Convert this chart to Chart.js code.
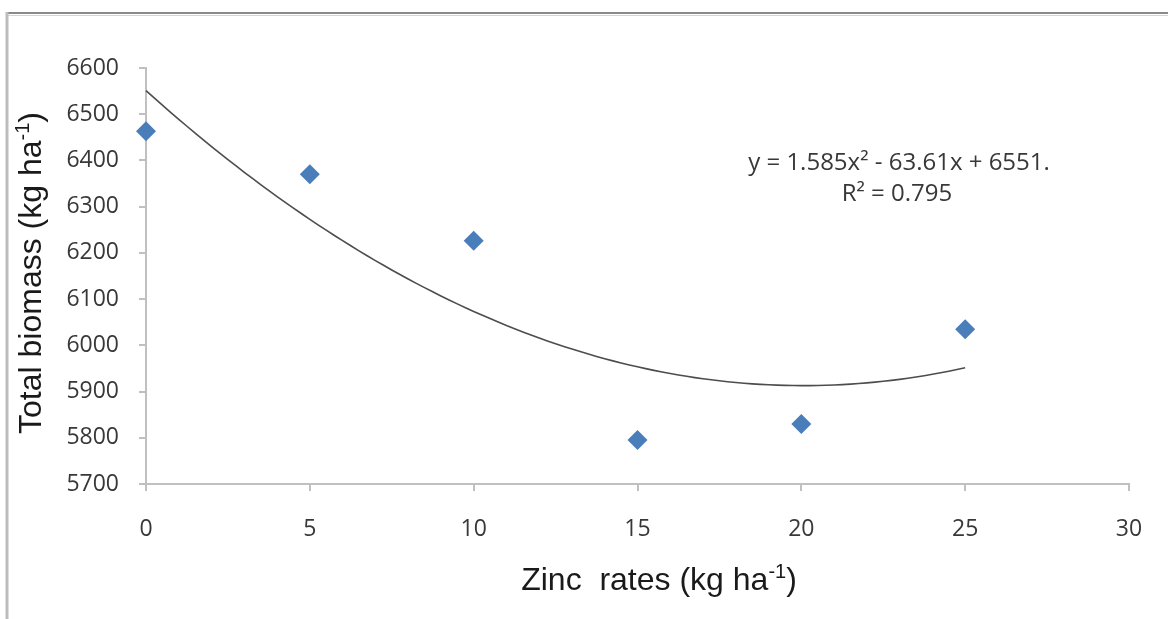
<!DOCTYPE html>
<html>
<head>
<meta charset="utf-8">
<script src="https://cdn.jsdelivr.net/npm/chart.js@4/dist/chart.umd.min.js"></script>
<style>
  html, body { margin: 0; padding: 0; background: #ffffff; }
  #wrap { position: relative; width: 1168px; height: 619px; }
</style>
</head>
<body>
<div id="wrap"><canvas id="chart" width="1168" height="619"></canvas></div>
<script>
// Zinc application rates (kg ha-1) and measured total biomass (kg ha-1)
const zincRates = [0, 5, 10, 15, 20, 25];
const totalBiomass = [6463, 6370, 6226, 5795, 5830, 6035];

// Quadratic trend coefficients: y = a*x^2 + b*x + c
const trendCoefficients = [1.585, -63.61, 6551];
const trendR2 = 0.795;

// Axis tick settings
const xTicks = [0, 5, 10, 15, 20, 25, 30];
const yTicks = [5700, 5800, 5900, 6000, 6100, 6200, 6300, 6400, 6500, 6600];

const [qa, qb, qc] = trendCoefficients;
const trendPoints = [];
for (let i = 0; i <= 100; i++) {
  const x = zincRates[0] + (zincRates[zincRates.length - 1] - zincRates[0]) * i / 100;
  trendPoints.push({ x: x, y: qa * x * x + qb * x + qc });
}

const scatterPoints = zincRates.map((x, i) => ({ x: x, y: totalBiomass[i] }));

const equationLine1 = 'y = ' + qa + 'x\u00B2 - ' + Math.abs(qb) + 'x + ' + qc + '.';
const equationLine2 = 'R\u00B2 = ' + trendR2;

const AXIS_COLOR = '#c0c0c0';
const TEXT_COLOR = '#383838';
const TICK_FONT = { family: '"Open Sans", Lato, sans-serif', size: 23 };

// Draws text with a raised, smaller superscript segment
function drawSupText(ctx, parts, x, y, size) {
  let total = 0;
  const widths = parts.map(p => {
    ctx.font = (p.sup ? Math.round(size * 0.62) : size) + 'px "Liberation Sans", Arial, sans-serif';
    const w = ctx.measureText(p.t).width;
    total += w;
    return w;
  });
  let cx = x - total / 2;
  parts.forEach((p, i) => {
    ctx.font = (p.sup ? Math.round(size * 0.62) : size) + 'px "Liberation Sans", Arial, sans-serif';
    ctx.fillText(p.t, cx, p.sup ? y - size * 0.36 : y);
    cx += widths[i];
  });
}

const decorations = {
  id: 'decorations',
  beforeDraw(chart) {
    const ctx = chart.ctx;
    ctx.save();
    ctx.fillStyle = '#ffffff';
    ctx.fillRect(0, 0, chart.width, chart.height);
    // outer frame (top and left edges)
    ctx.strokeStyle = '#8a8a8a';
    ctx.lineWidth = 2;
    ctx.beginPath();
    ctx.moveTo(6, 13);
    ctx.lineTo(chart.width, 13);
    ctx.stroke();
    ctx.strokeStyle = '#d4d4d4';
    ctx.lineWidth = 1;
    ctx.beginPath();
    ctx.moveTo(8, 15.5);
    ctx.lineTo(chart.width, 15.5);
    ctx.stroke();
    ctx.strokeStyle = '#bdbdbd';
    ctx.lineWidth = 3;
    ctx.beginPath();
    ctx.moveTo(7, 12);
    ctx.lineTo(7, chart.height);
    ctx.stroke();
    ctx.restore();
  },
  afterDraw(chart) {
    const ctx = chart.ctx;
    ctx.save();
    ctx.fillStyle = '#1a1a1a';
    ctx.textAlign = 'left';
    ctx.textBaseline = 'alphabetic';
    // x axis title
    drawSupText(ctx, [{ t: 'Zinc  rates (kg ha' }, { t: '-1', sup: true }, { t: ')' }], 659, 590, 32);
    // y axis title
    ctx.translate(41, 273);
    ctx.rotate(-Math.PI / 2);
    drawSupText(ctx, [{ t: 'Total biomass (kg ha' }, { t: '-1', sup: true }, { t: ')' }], 0, 0, 32);
    ctx.restore();

    // trendline equation
    ctx.save();
    ctx.fillStyle = TEXT_COLOR;
    ctx.textAlign = 'center';
    ctx.textBaseline = 'alphabetic';
    ctx.font = '24px "Open Sans", Lato, sans-serif';
    ctx.fillText(equationLine1, 899, 170);
    ctx.fillText(equationLine2, 897, 201);
    ctx.restore();
  }
};

new Chart(document.getElementById('chart'), {
  type: 'scatter',
  data: {
    datasets: [
      {
        label: 'Total biomass',
        data: scatterPoints,
        backgroundColor: '#4a7ebb',
        borderColor: '#4a7ebb',
        borderWidth: 0,
        pointStyle: 'rectRot',
        pointRadius: 10,
        pointHoverRadius: 10,
        clip: false,
        order: 1
      },
      {
        label: 'Poly. trend',
        type: 'line',
        data: trendPoints,
        borderColor: '#4d4d4d',
        borderWidth: 1.6,
        pointRadius: 0,
        tension: 0,
        fill: false,
        clip: false,
        order: 2
      }
    ]
  },
  options: {
    responsive: false,
    animation: false,
    devicePixelRatio: 1,
    layout: { padding: { top: 68, right: 39, bottom: 0, left: 0 } },
    plugins: {
      legend: { display: false },
      tooltip: { enabled: false },
      title: { display: false }
    },
    scales: {
      x: {
        type: 'linear',
        min: xTicks[0],
        max: xTicks[xTicks.length - 1],
        afterBuildTicks: s => { s.ticks = xTicks.map(v => ({ value: v })); },
        afterFit: s => { s.height = 135; },
        grid: { drawOnChartArea: false, drawTicks: true, tickLength: 7, color: AXIS_COLOR, lineWidth: 2 },
        border: { display: true, color: AXIS_COLOR, width: 2 },
        ticks: { color: TEXT_COLOR, font: TICK_FONT, padding: 25, maxRotation: 0, callback: v => String(v) }
      },
      y: {
        type: 'linear',
        min: yTicks[0],
        max: yTicks[yTicks.length - 1],
        afterBuildTicks: s => { s.ticks = yTicks.map(v => ({ value: v })); },
        afterFit: s => { s.width = 146; },
        grid: { drawOnChartArea: false, drawTicks: true, tickLength: 7, color: AXIS_COLOR, lineWidth: 2 },
        border: { display: true, color: AXIS_COLOR, width: 2 },
        ticks: { color: TEXT_COLOR, font: TICK_FONT, padding: 20, callback: v => String(v) }
      }
    }
  },
  plugins: [decorations]
});
</script>
</body>
</html>
